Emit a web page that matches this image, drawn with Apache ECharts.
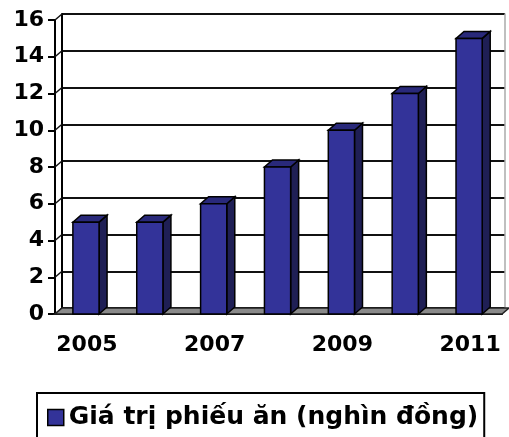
<!DOCTYPE html>
<html>
<head>
<meta charset="utf-8">
<script src="https://cdn.jsdelivr.net/npm/echarts@6/dist/echarts.min.js"></script>
<style>
  html, body { margin: 0; padding: 0; background: #fff; }
  #main { width: 509px; height: 437px; }
</style>
</head>
<body>
<div id="main"></div>
<script>
var years = ['2005', '2006', '2007', '2008', '2009', '2010', '2011'];
var values = [5, 5, 6, 8, 10, 12, 15];
var yTicks = [0, 2, 4, 6, 8, 10, 12, 14, 16];
var seriesName = 'Giá trị phiếu ăn (nghìn đồng)';

var myChart = echarts.init(document.getElementById('main'));

// depth of the walls and of the bars (3D look)
var WALL_DX = 7, WALL_DY = -6;
var BAR_DX = 8, BAR_DY = -7;

function renderFloor(params, api) {
    var cs = params.coordSys;
    var x = cs.x, y = cs.y + cs.height, w = cs.width;
    var children = [];
    // left wall diagonals at each tick
    yTicks.forEach(function (t) {
        var p = api.coord([0, t]);
        children.push({
            type: 'line',
            shape: { x1: x, y1: p[1], x2: x + WALL_DX, y2: p[1] + WALL_DY },
            style: { stroke: '#111', lineWidth: 1.5 }
        });
    });
    children.push({
        type: 'polygon',
        shape: { points: [[x, y], [x + w, y], [x + w + WALL_DX, y + WALL_DY], [x + WALL_DX, y + WALL_DY]] },
        style: { fill: '#8a8a8a', stroke: '#222', lineWidth: 1.5 }
    });
    return { type: 'group', children: children };
}

function renderBar(params, api) {
    var i = api.value(0);
    var top = api.coord([i, api.value(1)]);
    var base = api.coord([i, 0]);
    var band = api.size([1, 0])[0];
    var w = band * 0.41;
    var x0 = top[0] - band * 0.22;
    var x1 = x0 + w;
    var yt = top[1], yb = base[1];
    var edge = { stroke: '#000', lineWidth: 1.5 };
    return {
        type: 'group',
        children: [
            {
                type: 'polygon',
                shape: { points: [[x1, yb], [x1 + BAR_DX, yb + BAR_DY], [x1 + BAR_DX, yt + BAR_DY], [x1, yt]] },
                style: Object.assign({ fill: '#1f1f55' }, edge)
            },
            {
                type: 'polygon',
                shape: { points: [[x0, yt], [x1, yt], [x1 + BAR_DX, yt + BAR_DY], [x0 + BAR_DX, yt + BAR_DY]] },
                style: Object.assign({ fill: '#29297a' }, edge)
            },
            {
                type: 'rect',
                shape: { x: x0, y: yt, width: w, height: yb - yt },
                style: Object.assign({ fill: '#333399' }, edge)
            }
        ]
    };
}

var labelFont = { fontFamily: 'DejaVu Sans', fontWeight: 'bold', fontSize: 22, color: '#000' };

option = {
    animation: false,
    backgroundColor: '#fff',
    grid: [
        { left: 55, right: 7, top: 20, bottom: 123 },
        { left: 62, right: 4, top: 14, bottom: 129 }
    ],
    legend: {
        data: [seriesName],
        left: 37,
        top: 393,
        padding: [12, 6, 20, 10],
        borderColor: '#000',
        borderWidth: 2,
        itemWidth: 16,
        itemHeight: 16,
        itemGap: 8,
        icon: 'rect',
        itemStyle: { color: '#333399', borderColor: '#000', borderWidth: 1.5 },
        textStyle: { fontFamily: 'DejaVu Sans', fontWeight: 'bold', fontSize: 25, color: '#000' }
    },
    xAxis: [
        {
            type: 'category',
            gridIndex: 0,
            data: years,
            boundaryGap: true,
            axisLine: { lineStyle: { color: '#000', width: 2 } },
            axisTick: { interval: 0, length: 7, lineStyle: { color: '#000', width: 2 } },
            axisLabel: Object.assign({ interval: 1, margin: 20 }, labelFont),
            splitLine: { show: false }
        },
        {
            type: 'category',
            gridIndex: 1,
            data: years,
            show: false
        }
    ],
    yAxis: [
        {
            type: 'value',
            gridIndex: 0,
            min: 0,
            max: 16,
            interval: 2,
            axisLine: { show: true, lineStyle: { color: '#000', width: 2 } },
            axisTick: { show: true, length: 7, lineStyle: { color: '#000', width: 2 } },
            axisLabel: Object.assign({ margin: 11 }, labelFont),
            splitLine: { show: false }
        },
        {
            type: 'value',
            gridIndex: 1,
            min: 0,
            max: 16,
            interval: 2,
            axisLine: { show: true, lineStyle: { color: '#000', width: 2 } },
            axisTick: { show: false },
            axisLabel: { show: false },
            splitLine: { show: true, lineStyle: { color: '#111', width: 2 } }
        },
        {
            type: 'value',
            gridIndex: 1,
            position: 'right',
            min: 0,
            max: 16,
            interval: 2,
            axisLine: { show: true, lineStyle: { color: '#aaa', width: 1.5 } },
            axisTick: { show: false },
            axisLabel: { show: false },
            splitLine: { show: false }
        }
    ],
    series: [
        {
            name: 'floor',
            type: 'custom',
            xAxisIndex: 0,
            yAxisIndex: 0,
            z: 1,
            silent: true,
            renderItem: renderFloor,
            data: [[0, 0]]
        },
        {
            name: seriesName,
            type: 'custom',
            xAxisIndex: 0,
            yAxisIndex: 0,
            z: 3,
            itemStyle: { color: '#333399' },
            encode: { x: 0, y: 1 },
            renderItem: renderBar,
            data: values.map(function (v, i) { return [i, v]; })
        }
    ]
};

myChart.setOption(option);
</script>
</body>
</html>
